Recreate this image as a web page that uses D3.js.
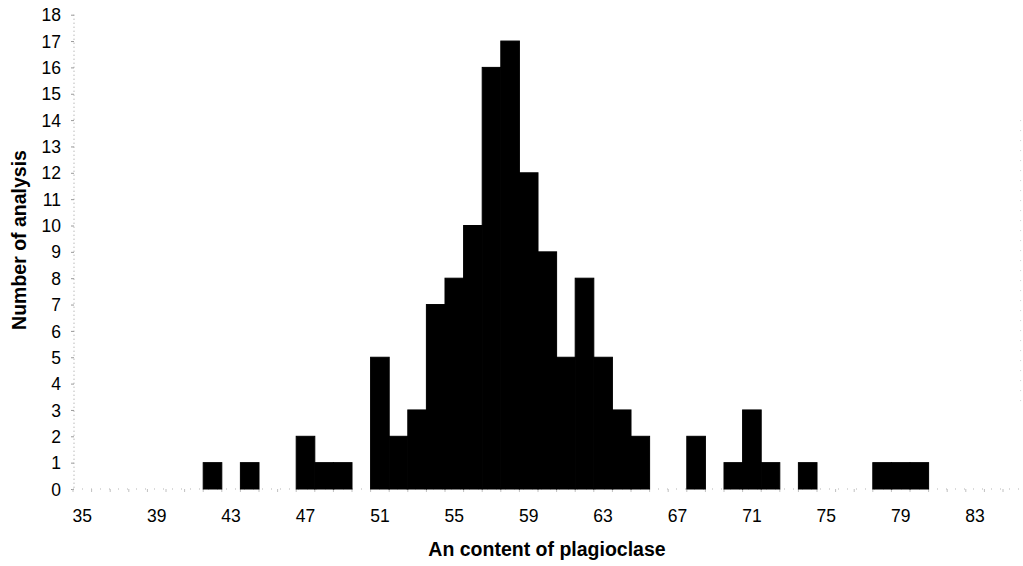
<!DOCTYPE html>
<html>
<head>
<meta charset="utf-8">
<title>An content of plagioclase</title>
<script src="https://d3js.org/d3.v7.min.js"></script>
<style>
  body { margin: 0; background: #fff; }
  text { font-family: "Liberation Sans", Arial, sans-serif; fill: #000; }
</style>
</head>
<body>
<div id="chart"></div>
<script>
// histogram data: An content (category) -> number of analyses
var anValues = [42, 44, 47, 48, 49, 51, 52, 53, 54, 55, 56, 57, 58, 59, 60, 61, 62, 63, 64, 65, 68, 70, 71, 72, 74, 78, 79, 80];
var counts   = [ 1,  1,  2,  1,  1,  5,  2,  3,  7,  8, 10, 16, 17, 12,  9,  5,  8,  5,  3,  2,  2,  1,  3,  1,  1,  1,  1,  1];
var xTickLabels = [35, 39, 43, 47, 51, 55, 59, 63, 67, 71, 75, 79, 83];
var yTicks = d3.range(0, 19);

var svgDims = {width: 1023, height: 566};
var margin = {top: 14.7, right: 2, bottom: 77, left: 73};

var categories = d3.range(35, 86);

var svg = d3.select("#chart").append("svg")
  .attr("width", svgDims.width)
  .attr("height", svgDims.height);

var x = d3.scaleBand()
  .domain(categories)
  .range([margin.left, margin.left + categories.length * 18.6])
  .padding(0);

var y = d3.scaleLinear()
  .domain([0, 18])
  .range([489, margin.top]);

var data = anValues.map(function(d, i) { return {an: d, n: counts[i]}; });

// axes (faint dotted lines like the scanned original)
var axisColor = "#9a9a9a";

svg.append("line")
  .attr("x1", margin.left + 1).attr("x2", margin.left + 1)
  .attr("y1", y(18)).attr("y2", y(0))
  .attr("stroke", axisColor).attr("stroke-width", 1)
  .attr("stroke-dasharray", "1,3");

svg.append("line")
  .attr("x1", margin.left).attr("x2", x.range()[1])
  .attr("y1", y(0)).attr("y2", y(0))
  .attr("stroke", "#b5b5b5").attr("stroke-width", 1)
  .attr("stroke-dasharray", "1,8");

svg.append("line")
  .attr("x1", x.range()[1] - 1).attr("x2", x.range()[1] - 1)
  .attr("y1", y(14)).attr("y2", y(3))
  .attr("stroke", "#d0d0d0").attr("stroke-width", 1)
  .attr("stroke-dasharray", "1,9");

// y ticks
var yAxis = d3.axisLeft(y).tickValues(yTicks).tickSize(3).tickPadding(10).tickFormat(d3.format("d"));
var gy = svg.append("g")
  .attr("transform", "translate(" + (margin.left + 1) + ",0)")
  .call(yAxis);
gy.select(".domain").remove();
gy.selectAll(".tick line").attr("stroke", axisColor);
gy.selectAll(".tick text").style("font-size", "17.5px").attr("dy", "0.35em");

// x ticks at category boundaries
svg.append("g").selectAll("line")
  .data(categories)
  .enter().append("line")
  .attr("x1", function(d) { return x(d); })
  .attr("x2", function(d) { return x(d); })
  .attr("y1", y(0)).attr("y2", y(0) + 3)
  .attr("stroke", "#c0c0c0")
  .attr("stroke-width", 1);

// x tick labels
svg.append("g").selectAll("text")
  .data(xTickLabels)
  .enter().append("text")
  .attr("x", function(d) { return x(d) + x.bandwidth() / 2; })
  .attr("y", 522)
  .attr("text-anchor", "middle")
  .style("font-size", "17.5px")
  .text(function(d) { return d; });

// bars
svg.append("g").selectAll("rect")
  .data(data)
  .enter().append("rect")
  .attr("x", function(d) { return x(d.an); })
  .attr("y", function(d) { return y(d.n); })
  .attr("width", x.bandwidth())
  .attr("height", function(d) { return y(0) - y(d.n); })
  .attr("fill", "#000")
  .attr("stroke", "#000")
  .attr("stroke-width", 1);

// axis titles
svg.append("text")
  .attr("x", 547)
  .attr("y", 556)
  .attr("text-anchor", "middle")
  .style("font-size", "19.5px")
  .style("font-weight", "bold")
  .text("An content of plagioclase");

svg.append("text")
  .attr("transform", "translate(26,240) rotate(-90)")
  .attr("text-anchor", "middle")
  .style("font-size", "19.5px")
  .style("font-weight", "bold")
  .text("Number of analysis");
</script>
</body>
</html>
